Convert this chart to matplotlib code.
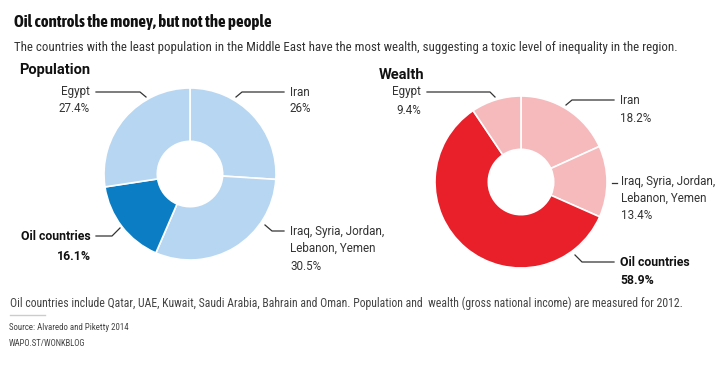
import matplotlib
matplotlib.use("Agg")
import matplotlib.pyplot as plt
from matplotlib.lines import Line2D

W, H = 725, 373
fig = plt.figure(figsize=(W / 100, H / 100), dpi=100)
fig.patch.set_facecolor("white")
plt.rcParams["font.family"] = ["Roboto", "DejaVu Sans"]
COND = ["Roboto Condensed", "Roboto", "DejaVu Sans"]
TITLEF = ["Asap Condensed", "Roboto Condensed", "DejaVu Sans"]

# ---- data ----
pop_labels = ["Iran", "Iraq, Syria, Jordan,\nLebanon, Yemen", "Oil countries", "Egypt"]
pop_values = [26.0, 30.5, 16.1, 27.4]
pop_colors = ["#b7d6f1", "#b7d6f1", "#0b7dc4", "#b7d6f1"]

wealth_labels = ["Iran", "Iraq, Syria, Jordan,\nLebanon, Yemen", "Oil countries", "Egypt"]
wealth_values = [18.2, 13.4, 58.9, 9.4]
wealth_colors = ["#f6babd", "#f6babd", "#e91f29", "#f6babd"]

pop_pct = ["26%", "30.5%", "16.1%", "27.4%"]
wealth_pct = ["18.2%", "13.4%", "58.9%", "9.4%"]

TXT = "#333333"


def fx(x):
    return x / W


def fy(y):
    return 1 - y / H


def text(x, y, s, **kw):
    kw.setdefault("color", TXT)
    kw.setdefault("va", "center")
    fig.text(fx(x), fy(y), s, **kw)


def leader(points):
    xs = [fx(p[0]) for p in points]
    ys = [fy(p[1]) for p in points]
    fig.add_artist(Line2D(xs, ys, transform=fig.transFigure, color="#333333", lw=0.9))


def donut(cx, cy, r, values, colors):
    ax = fig.add_axes([fx(cx - r), fy(cy + r), 2 * r / W, 2 * r / H])
    ax.pie(values, colors=colors, startangle=90, counterclock=False,
           radius=1.0, wedgeprops=dict(width=0.62, edgecolor="white", linewidth=1.2))
    ax.set_xlim(-1, 1)
    ax.set_ylim(-1, 1)
    ax.set_aspect("equal")
    ax.axis("off")
    return ax


# ---- titles ----
text(14, 22, "Oil controls the money, but not the people", fontsize=12.2,
     fontweight="bold", color="#111111", family=TITLEF)
text(14, 47, "The countries with the least population in the Middle East have the most wealth, "
     "suggesting a toxic level of inequality in the region.", fontsize=9.3, color="#333333",
     family=COND)

text(19, 70, "Population", fontsize=10.5, fontweight="bold", color="#111111")
text(379, 75, "Wealth", fontsize=10.5, fontweight="bold", color="#111111")

# ---- donuts ----
donut(190, 174, 86, pop_values, pop_colors)
donut(521, 182, 86, wealth_values, wealth_colors)

FS = 8.4
FSB = 8.8
# Population labels
text(90, 92, pop_labels[3], fontsize=FS, ha="right")
text(90, 109, pop_pct[3], fontsize=FS, ha="right")
leader([(96, 92), (140, 92), (146, 97)])

text(290, 92, pop_labels[0], fontsize=FS, ha="left")
text(290, 109, pop_pct[0], fontsize=FS, ha="left")
leader([(236, 97), (242, 92), (284, 92)])

text(290, 240, pop_labels[1], fontsize=FS, ha="left", linespacing=1.35)
text(290, 266, pop_pct[1], fontsize=FS, ha="left")
leader([(265, 225), (272, 231), (284, 231)])

text(91, 237, pop_labels[2], fontsize=FSB, ha="right", fontweight="bold", color="#111111")
text(91, 256, pop_pct[2], fontsize=FSB, ha="right", fontweight="bold", color="#111111")
leader([(96, 236), (112, 236), (120, 228)])

# Wealth labels
text(421, 92, wealth_labels[3], fontsize=FS, ha="right")
text(421, 110, wealth_pct[3], fontsize=FS, ha="right")
leader([(427, 92), (490, 92), (495, 97)])

text(620, 100, wealth_labels[0], fontsize=FS, ha="left")
text(620, 118, wealth_pct[0], fontsize=FS, ha="left")
leader([(566, 105), (572, 100), (614, 100)])

text(621, 190, wealth_labels[1], fontsize=FS, ha="left", linespacing=1.35)
text(621, 215, wealth_pct[1], fontsize=FS, ha="left")
leader([(612, 183), (617, 183)])

text(620, 262, wealth_labels[2], fontsize=FSB, ha="left", fontweight="bold", color="#111111")
text(620, 281, wealth_pct[2], fontsize=FSB, ha="left", fontweight="bold", color="#111111")
leader([(575, 255), (582, 262), (614, 262)])

# ---- footer ----
text(10, 303, "Oil countries include Qatar, UAE, Kuwait, Saudi Arabia, Bahrain and Oman. "
     "Population and  wealth (gross national income) are measured for 2012.",
     fontsize=8.45, color="#444444", family=COND)
fig.add_artist(Line2D([fx(10), fx(45)], [fy(315), fy(315)], transform=fig.transFigure,
                      color="#cccccc", lw=1))
text(9, 327, "Source: Alvaredo and Piketty 2014", fontsize=6.4, color="#444444", family=COND)
text(9, 344, "WAPO.ST/WONKBLOG", fontsize=6.2, color="#444444", family=COND)

fig.savefig("out.png", dpi=100, facecolor="white")
